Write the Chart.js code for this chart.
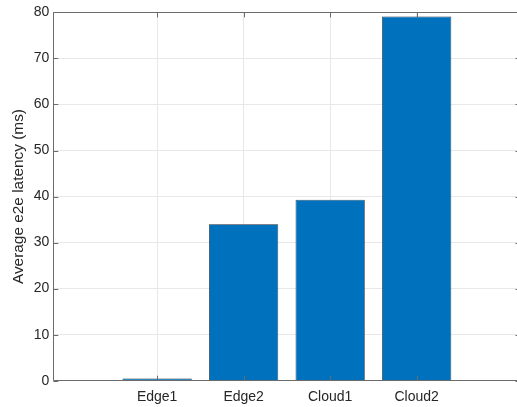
<!DOCTYPE html>
<html>
<head>
<meta charset="utf-8">
<script src="https://cdn.jsdelivr.net/npm/chart.js@4"></script>
<style>
  html, body { margin: 0; padding: 0; background: #fff; overflow: hidden; }
  #wrap { position: absolute; left: 0; top: 0; width: 522px; height: 407px; }
</style>
</head>
<body>
<div id="wrap"><canvas id="c"></canvas></div>
<script>
// Average end-to-end latency per deployment site
const categories = ['Edge1', 'Edge2', 'Cloud1', 'Cloud2'];
const positions = [1, 2, 3, 4];
const latencyMs = [0.5, 34.0, 39.3, 79.1];
const yTicks = [0, 10, 20, 30, 40, 50, 60, 70, 80];

const axisColor = '#6b6b6b';
const textColor = '#262626';
const gridColor = '#e8e8e8';
const family = '"Liberation Sans", Arial, Helvetica, sans-serif';
const tickFont = { family, size: 14 };
const titleFont = { family, size: 15.4 };

// Box around the plot with small inward ticks on all four sides
const boxTicks = {
  id: 'boxTicks',
  afterDatasetsDraw(chart) {
    const { ctx, chartArea: a, scales } = chart;
    const len = 5;
    ctx.save();
    ctx.strokeStyle = axisColor;
    ctx.lineWidth = 1;
    ctx.beginPath();
    ctx.rect(Math.round(a.left) + 0.5, Math.round(a.top) + 0.5,
             Math.round(a.right - a.left), Math.round(a.bottom - a.top));
    for (const v of yTicks) {
      const y = Math.round(scales.y.getPixelForValue(v)) + 0.5;
      ctx.moveTo(a.left, y); ctx.lineTo(a.left + len, y);
      ctx.moveTo(a.right, y); ctx.lineTo(a.right - len, y);
    }
    for (const p of positions) {
      const x = Math.round(scales.x.getPixelForValue(p)) + 0.5;
      ctx.moveTo(x, a.bottom); ctx.lineTo(x, a.bottom - len);
      ctx.moveTo(x, a.top); ctx.lineTo(x, a.top + len);
    }
    ctx.stroke();
    ctx.restore();
  }
};

new Chart(document.getElementById('c'), {
  type: 'bar',
  data: {
    datasets: [{
      data: positions.map((p, i) => ({ x: p, y: latencyMs[i] })),
      backgroundColor: '#0072BD',
      borderColor: '#1a2633',
      borderWidth: 0.75,
      barPercentage: 0.8,
      categoryPercentage: 1.0
    }]
  },
  options: {
    responsive: true,
    maintainAspectRatio: false,
    animation: false,
    layout: { padding: { top: 11.5, right: 1.5, left: 0, bottom: 0 } },
    plugins: { legend: { display: false }, tooltip: { enabled: false } },
    scales: {
      x: {
        type: 'linear',
        offset: false,
        min: -0.2,
        max: 5.2,
        afterBuildTicks(scale) { scale.ticks = positions.map(v => ({ value: v })); },
        afterFit(scale) { scale.height = 26.3; },
        ticks: {
          color: textColor,
          font: tickFont,
          padding: 8,
          autoSkip: false,
          maxRotation: 0,
          callback: (v) => categories[positions.indexOf(v)] ?? ''
        },
        grid: { color: gridColor, drawTicks: false, offset: false },
        border: { display: false }
      },
      y: {
        min: 0,
        max: 80,
        afterBuildTicks(scale) { scale.ticks = yTicks.map(v => ({ value: v })); },
        afterFit(scale) { scale.width = 53.3; },
        ticks: { color: textColor, font: tickFont, padding: 4 },
        grid: { color: gridColor, drawTicks: false },
        border: { display: false },
        title: {
          display: true,
          text: 'Average e2e latency (ms)',
          color: textColor,
          font: titleFont,
          padding: { top: 10, bottom: 0 }
        }
      }
    }
  },
  plugins: [boxTicks]
});
</script>
</body>
</html>
